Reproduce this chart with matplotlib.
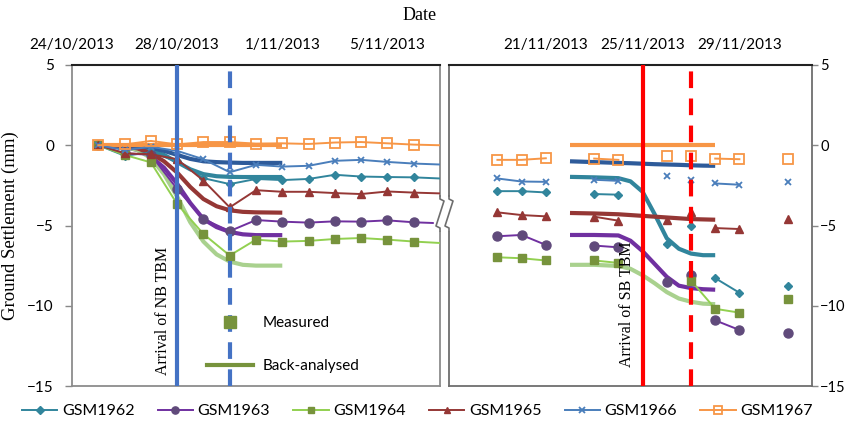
import numpy as np
import matplotlib.pyplot as plt
from matplotlib.lines import Line2D
from matplotlib.patches import Rectangle

# 日付軸: 左は10月24日からの日数, 右は11月の日
days_left = [1, 2, 3, 4, 5, 6, 7, 8, 9, 10, 11, 12, 13, 15]
days_right = [19, 20, 21, 23, 24, 26, 27, 28, 29, 31]

left_ticks = [0, 4, 8, 12]
left_tick_labels = ["24/10/2013", "28/10/2013", "1/11/2013", "5/11/2013"]
right_ticks = [21, 25, 29]
right_tick_labels = ["21/11/2013", "25/11/2013", "29/11/2013"]

names = ["GSM1962", "GSM1963", "GSM1964", "GSM1965", "GSM1966", "GSM1967"]

# 実測値 (mm)
meas_left = {
    "GSM1962": [0, -0.65, -0.45, -1.0, -2.05, -2.42, -2.1, -2.17, -2.1, -1.84, -1.95, -1.98, -2.0, -2.14],
    "GSM1963": [0, -0.5, -0.6, -2.73, -4.6, -5.35, -4.66, -4.76, -4.82, -4.74, -4.76, -4.68, -4.8, -4.92],
    "GSM1964": [0, -0.6, -1.07, -3.66, -5.53, -6.87, -5.88, -6.0, -5.96, -5.84, -5.78, -5.88, -6.0, -6.18],
    "GSM1965": [0, -0.5, -0.56, -0.87, -2.2, -3.87, -2.8, -2.9, -2.9, -2.98, -3.04, -2.88, -2.95, -3.05],
    "GSM1966": [0, -0.3, -0.1, -0.35, -0.87, -1.68, -1.22, -1.33, -1.28, -0.97, -0.91, -1.04, -1.14, -1.26],
    "GSM1967": [0, 0.05, 0.27, 0.05, 0.2, 0.2, 0.1, 0.12, 0.08, 0.17, 0.2, 0.12, 0.04, -0.04],
}
meas_right = {
    "GSM1962": [-2.86, -2.86, -2.94, -3.04, -3.08, -6.15, -5.05, -8.28, -9.19, -8.74],
    "GSM1963": [-5.67, -5.59, -6.21, -6.25, -6.36, -8.53, -8.1, -10.91, -11.51, -11.68],
    "GSM1964": [-6.98, -7.04, -7.18, -7.18, -7.33, np.nan, -8.43, -10.19, -10.43, -9.57],
    "GSM1965": [-4.18, -4.35, -4.43, -4.45, -4.7, -4.64, -4.18, -5.16, -5.22, -4.6],
    "GSM1966": [-2.07, -2.26, -2.28, -2.15, -2.22, -1.9, -2.15, -2.38, -2.46, -2.26],
    "GSM1967": [-0.91, -0.91, -0.81, -0.83, -0.91, -0.66, -0.66, -0.83, -0.87, -0.83],
}
# 右側の線のつながり (同じ番号の点同士を線で結ぶ)
seg_right = [0, 0, 0, 1, 1, 2, 3, 4, 4, 5]
seg_right_1964 = [0, 0, 0, 1, 1, 2, 3, 3, 3, 5]

# 逆解析結果
back_days_left = [1, 2, 2.5, 3, 3.5, 4, 4.5, 5, 5.5, 6, 6.5, 7, 8]
back_left = {
    "GSM1962": [0, -0.05, -0.1, -0.3, -0.6, -1.05, -1.5, -1.8, -1.93, -1.97, -1.98, -1.98, -1.98],
    "GSM1963": [0, -0.1, -0.3, -0.7, -1.4, -2.4, -3.6, -4.6, -5.1, -5.4, -5.55, -5.6, -5.6],
    "GSM1964": [0, -0.1, -0.3, -0.8, -1.8, -3.2, -4.8, -6.0, -6.8, -7.25, -7.45, -7.5, -7.5],
    "GSM1965": [0, -0.05, -0.2, -0.5, -1.0, -1.7, -2.6, -3.35, -3.8, -4.05, -4.15, -4.18, -4.2],
    "GSM1966": [0, 0, -0.05, -0.15, -0.35, -0.6, -0.85, -1.0, -1.05, -1.08, -1.1, -1.1, -1.1],
    "GSM1967": [0, 0, 0, 0, 0, 0, 0, 0, 0, 0, 0, 0, 0],
}
back_days_right = [22, 23, 24, 24.5, 25, 25.5, 26, 26.5, 27, 27.5, 28]
back_right = {
    "GSM1962": [-1.97, -2.0, -2.05, -2.25, -2.9, -4.3, -5.8, -6.45, -6.75, -6.85, -6.85],
    "GSM1963": [-5.59, -5.59, -5.62, -5.95, -6.6, -7.4, -8.2, -8.75, -8.9, -8.97, -9.0],
    "GSM1964": [-7.45, -7.45, -7.52, -7.7, -8.1, -8.6, -9.15, -9.55, -9.75, -9.87, -9.9],
    "GSM1965": [-4.22, -4.25, -4.3, -4.35, -4.4, -4.45, -4.5, -4.55, -4.6, -4.62, -4.64],
    "GSM1966": [-1.0, -1.05, -1.1, -1.12, -1.15, -1.18, -1.2, -1.22, -1.25, -1.27, -1.28],
    "GSM1967": [0, 0, 0, 0, 0, 0, 0, 0, 0, 0, 0],
}

# TBM到達日
nb_arrival, nb_dash = 4, 6
sb_arrival, sb_dash = 25, 27

# スタイル
line_col = {"GSM1962": "#31859c", "GSM1963": "#7030a0", "GSM1964": "#92d050",
            "GSM1965": "#953735", "GSM1966": "#4a7ebb", "GSM1967": "#f79646"}
mark_col = {"GSM1962": "#31859c", "GSM1963": "#604a7b", "GSM1964": "#77933c",
            "GSM1965": "#953735", "GSM1966": "#4a7ebb", "GSM1967": "#f79646"}
back_col = {"GSM1962": "#31859c", "GSM1963": "#7030a0", "GSM1964": "#a9d18e",
            "GSM1965": "#953735", "GSM1966": "#2e5b9a", "GSM1967": "#f79646"}
markers = {"GSM1962": "D", "GSM1963": "o", "GSM1964": "s",
           "GSM1965": "^", "GSM1966": "x", "GSM1967": "s"}
msize = {"GSM1962": 4.5, "GSM1963": 6.5, "GSM1964": 6, "GSM1965": 6, "GSM1966": 5, "GSM1967": 6.5}

sans = "Lato"
serif = "Liberation Serif"
plt.rcParams["font.family"] = sans

fig = plt.figure(figsize=(8.52, 4.28), dpi=100)
W, H = 852, 428
ax1 = fig.add_axes([72 / W, (H - 386) / H, 368 / W, 321 / H])
ax2 = fig.add_axes([449 / W, (H - 386) / H, 363 / W, 321 / H])


def mstyle(n, scale=1.0):
    face = "none" if n == "GSM1967" else mark_col[n]
    return dict(marker=markers[n], ms=msize[n] * scale, mfc=face, mec=mark_col[n],
                mew=1.3 if n in ("GSM1966", "GSM1967") else 1)


# 左パネル
for n in names:
    ax1.plot(back_days_left, back_left[n], color=back_col[n], lw=3, zorder=2,
             solid_capstyle="butt")
for n in names:
    ax1.plot(days_left, meas_left[n], color=line_col[n], lw=1.4, zorder=3, **mstyle(n))
ax1.axvline(nb_arrival, color="#4472c4", lw=3, zorder=4)
ax1.axvline(nb_dash, color="#4472c4", lw=3, ls=(0, (4, 2.5)), zorder=4)

# 右パネル
for n in names:
    ax2.plot(back_days_right, back_right[n], color=back_col[n], lw=3, zorder=2,
             solid_capstyle="butt")
for n in names:
    seg = seg_right_1964 if n == "GSM1964" else seg_right
    vals = np.array(meas_right[n], dtype=float)
    dr = np.array(days_right, dtype=float)
    for s in sorted(set(seg)):
        idx = [i for i, k in enumerate(seg) if k == s]
        ax2.plot(dr[idx], vals[idx], color=line_col[n], lw=1.4, zorder=3, **mstyle(n))
ax2.axvline(sb_arrival, color="#ff0000", lw=3, zorder=4)
ax2.axvline(sb_dash, color="#ff0000", lw=3, ls=(0, (4, 2.5)), zorder=4)

# 軸設定
for ax in (ax1, ax2):
    ax.set_ylim(-15, 5)
    ax.set_yticks([5, 0, -5, -10, -15])
    ax.xaxis.tick_top()
    ax.tick_params(axis="x", length=0, pad=9, labelsize=11)
    ax.tick_params(axis="y", length=5, width=1, color="#888888", labelsize=11)
    for s in ("left", "right", "bottom"):
        ax.spines[s].set_color("#8c8c8c")
        ax.spines[s].set_linewidth(1.3)
    ax.spines["top"].set_color("#222222")
    ax.spines["top"].set_linewidth(1.5)

ax1.set_xlim(0, 14)
ax1.set_xticks(left_ticks)
ax1.set_xticklabels(left_tick_labels)
ax1.tick_params(axis="y", pad=8)

ax2.set_xlim(17, 32)
ax2.set_xticks(right_ticks)
ax2.set_xticklabels(right_tick_labels)
ax2.yaxis.tick_right()
ax2.tick_params(axis="y", pad=2, length=4, labelsize=10.5)
for s in ("left", "right", "bottom"):
    ax2.spines[s].set_color("#6e6e6e")

ax1.set_ylabel("Ground Settlement (mm)", family=serif, fontsize=13.5, labelpad=6)
fig.text(420 / W, 1 - 15 / H, "Date", family=serif, fontsize=13, ha="center", va="center")

ax1.text(3.46, -10.3, "Arrival of NB TBM", family=serif, fontsize=11.5, rotation=90,
         ha="center", va="center", zorder=5)
ax2.text(24.36, -9.9, "Arrival of SB TBM", family=serif, fontsize=11.5, rotation=90,
         ha="center", va="center", zorder=5)

# 左パネル内の凡例
inner = [Line2D([], [], ls="none", marker="s", ms=8, mfc="#77933c", mec="#77933c"),
         Line2D([], [], color="#77933c", lw=3)]
ax1.legend(inner, ["Measured", "Back-analysed"], loc="upper left",
           bbox_to_anchor=(0.33, 0.26), frameon=False, fontsize=11,
           handlelength=3, labelspacing=1.9, handletextpad=0.6)

# 下の凡例
handles = [Line2D([], [], color=line_col[n], lw=1.4, **mstyle(n, 0.8)) for n in names]
fig.legend(handles, names, loc="center", bbox_to_anchor=(0.49, 1 - 411 / H), ncol=6,
           frameon=False, fontsize=11.5, handlelength=2.2, handletextpad=0.3,
           columnspacing=1.45)

# 軸の切れ目 (ジグザグ)
fig.patches.append(Rectangle((434 / W, 1 - 230 / H), 22 / W, 33 / H,
                             transform=fig.transFigure, color="white", zorder=10))
for x0 in (440, 449):
    xs = [x0, x0, x0 + 4, x0 - 4, x0, x0]
    ys = [196, 199, 201, 226, 228, 231]
    fig.add_artist(Line2D([x / W for x in xs], [1 - y / H for y in ys],
                          transform=fig.transFigure, color="#6e6e6e", lw=1.2, zorder=11))

fig.savefig("out.png", dpi=100)
